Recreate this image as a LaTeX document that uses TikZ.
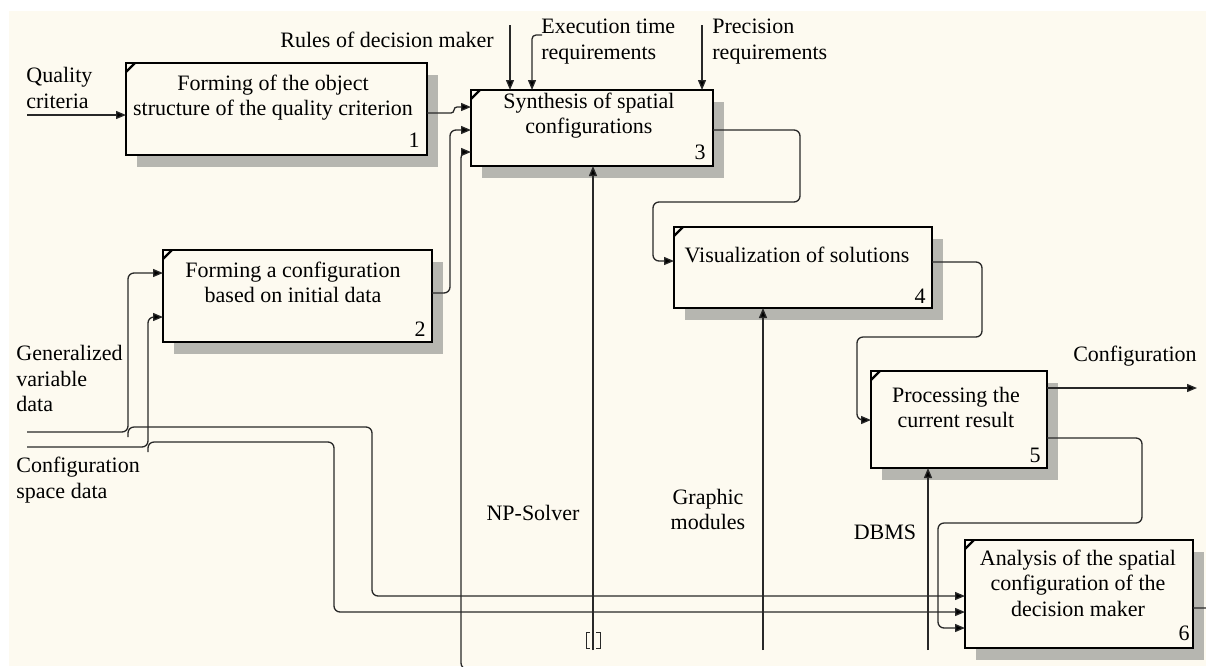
\documentclass[tikz,border=0pt]{standalone}
\usepackage{fontspec}
\setmainfont{Liberation Serif}
\usetikzlibrary{arrows.meta,calc,shadows}
\definecolor{bgc}{RGB}{253,250,240}
\definecolor{linec}{RGB}{40,40,40}
\definecolor{shadc}{RGB}{182,182,176}
\tikzset{
 box/.style={draw=black, line width=1.3pt, fill=bgc, inner sep=0pt, outer sep=0pt,
   general shadow={fill=shadc, shadow xshift=5.5pt, shadow yshift=-6pt}},
 conn/.style={draw=linec, line width=0.65pt, rounded corners=3pt},
 arr/.style={conn, -{Triangle[length=5pt,width=4pt,fill=black]}},
 lbl/.style={font=\fontsize{11}{12.75}\selectfont, inner sep=0pt, text=black},
 num/.style={font=\fontsize{11}{12.75}\selectfont, inner sep=0pt},
 tick/.style={draw=black, line width=1.1pt}
}
\begin{document}
\begin{tikzpicture}[x=0.5pt,y=-0.5pt]
\useasboundingbox (0,0) rectangle (1206,666);
\clip (0,0) rectangle (1206,666);
\fill[white] (0,0) rectangle (1206,666);
\fill[bgc] (9,11) rectangle (1206,666);

% boxes
\node[box, minimum width=150.5pt, minimum height=46pt] (b1) at (276.5,109) {};
\node[box, minimum width=121pt, minimum height=38pt] (b3) at (592,128) {};
\node[box, minimum width=134.5pt, minimum height=46pt] (b2) at (297.5,296) {};
\node[box, minimum width=129pt, minimum height=40.5pt] (b4) at (803,267.5) {};
\node[box, minimum width=88pt, minimum height=48.5pt] (b5) at (959,419.5) {};
\node[box, minimum width=114pt, minimum height=54pt] (b6) at (1079,594) {};

% corner ticks
\foreach \b in {b1,b2,b3,b4,b5,b6}{
  \draw[tick] ($(\b.north west)+(0,9)$) -- ($(\b.north west)+(9,0)$);
}

% box texts
\node[lbl, align=center] (t1) at (273,97.5) {Forming of the object\\structure of the quality criterion};
\node[lbl, align=center] (t3) at (589,115.5) {Synthesis of spatial\\configurations};
\node[lbl, align=center] (t2) at (293,282.5) {Forming a configuration\\based on initial data};
\node[lbl, align=center] (t4) at (797,255) {Visualization of solutions};
\node[lbl, align=center] (t5) at (956,407.5) {Processing the\\current result};
\node[lbl, align=center] (t6) at (1078,583) {Analysis of the spatial\\configuration of the\\decision maker};

% numbers
\node[num] (n1) at ($(b1.south east)+(-13,-15)$) {1};
\node[num] (n2) at ($(b2.south east)+(-12,-13)$) {2};
\node[num] (n3) at ($(b3.south east)+(-13,-14)$) {3};
\node[num] (n4) at ($(b4.south east)+(-12,-12)$) {4};
\node[num] (n5) at ($(b5.south east)+(-12,-13)$) {5};
\node[num] (n6) at ($(b6.south east)+(-9,-15)$) {6};

% outside labels
\node[lbl, anchor=west, align=left] (lq) at (26,88) {Quality\\criteria};
\node[lbl, anchor=west] (lr) at (280,40) {Rules of decision maker};
\node[lbl, anchor=west, align=left] (le) at (541,41.5) {Execution time\\requirements};
\node[lbl, anchor=west, align=left] (lp) at (712,41.5) {Precision\\requirements};
\node[lbl, anchor=west, align=left] (lg) at (16,378.5) {Generalized\\variable\\data};
\node[lbl, anchor=west, align=left] (lc) at (16,480) {Configuration\\space data};
\node[lbl] (lnp) at (533,513) {NP-Solver};
\node[lbl, align=center] (lgm) at (708,509.5) {Graphic\\modules};
\node[lbl] (ldb) at (885,532) {DBMS};
\node[lbl] (lcf) at (1135,356) {Configuration};

% input: quality criteria
\coordinate (qc) at (27,115);
\draw[arr] (qc) -- (qc -| b1.west);

% controls into box 3
\coordinate (rul) at (510,25);
\draw[arr] (rul) -- (rul |- b3.north);
\coordinate (ext) at (542,35);
\draw[arr, rounded corners=2pt] (ext) -- (532,35) -- (532,0 |- b3.north);
\coordinate (pre) at (702,25);
\draw[arr] (pre) -- (pre |- b3.north);

% mechanisms
\coordinate (np) at (593,650);
\draw[arr] (np) -- (np |- b3.south);
\draw[conn, rounded corners=0pt, line width=0.5pt] (590,632) -- (586,632) -- (586,648) -- (590,648);
\draw[conn, rounded corners=0pt, line width=0.5pt] (596,632) -- (600,632) -- (600,648) -- (596,648);
\coordinate (gm) at (763,650);
\draw[arr] (gm) -- (gm |- b4.south);
\coordinate (db) at (928,650);
\draw[arr] (db) -- (db |- b5.south);

% box 1 -> box 3
\draw[arr, rounded corners=1.5pt] (b1.east |- 0,113) -- (454,113) -- (454,107) -- (b3.west |- 0,107);
% box 2 -> box 3
\draw[arr] (b2.east |- 0,293) -- (450,293) -- (450,130) -- (b3.west |- 0,130);
% box 6 -> box 3 (feedback)
\draw[arr] (b6.east |- 0,608) -- (1212,608) -- (1212,669) -- (461,669) -- (461,152) -- (b3.west |- 0,152);
% box 3 -> box 4
\draw[arr] (b3.east |- 0,130) -- (800,130) -- (800,202) -- (653,202) -- (653,261) -- (b4.west |- 0,261);
% box 4 -> box 5
\draw[arr] (b4.east |- 0,262) -- (982,262) -- (982,337) -- (857,337) -- (857,420) -- (b5.west |- 0,420);
% box 5 -> output
\coordinate (cfg) at (1197,388);
\draw[arr] (b5.east |- cfg) -- (cfg);
% box 5 -> box 6
\draw[arr] (b5.east |- 0,438) -- (1142,438) -- (1142,523) -- (938,523) -- (938,628) -- (b6.west |- 0,628);

% generalized variable data
\coordinate (gv) at (27,432);
\draw[arr] (gv) -- (128,432) -- (128,273) -- (b2.west |- 0,273);
\draw[arr] (128,437) -- (128,427) -- (372,427) -- (372,596) -- (b6.west |- 0,596);
% configuration space data
\coordinate (cs) at (27,447);
\draw[arr] (cs) -- (148,447) -- (148,317) -- (b2.west |- 0,317);
\draw[arr] (148,452) -- (148,442) -- (334,442) -- (334,612) -- (b6.west |- 0,612);
\end{tikzpicture}
\end{document}
